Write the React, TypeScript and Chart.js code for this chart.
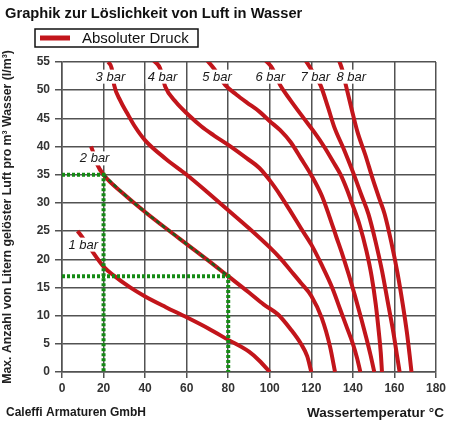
import React, { useEffect, useRef } from "react";
import { Chart, registerables } from "chart.js";

Chart.register(...registerables);

const FONT = '"Liberation Sans", Arial, Helvetica, sans-serif';

const chartTitle = "Graphik zur Löslichkeit von Luft in Wasser";
const legendLabel = "Absoluter Druck";
const yAxisTitle = "Max. Anzahl von Litern gelöster Luft pro m³ Wasser (l/m³)";
const xAxisTitle = "Wassertemperatur °C";
const footerText = "Caleffi Armaturen GmbH";

const xMin = 0;
const xMax = 180;
const xStep = 20;
const yMin = 0;
const yMax = 55;
const yStep = 5;

// Curves: [temperature °C, litres of air per m³ water]
const curve1bar = [[7.5, 25], [10, 23.8], [14, 21.7], [20, 18.7], [25, 17.1], [32.8, 15], [40, 13.4], [50, 11.5], [60, 9.7], [70, 7.8], [80, 5.7], [90, 3.6], [95, 2.0], [100, 0]];
const curve2bar = [[14, 40], [15, 39], [17, 36.8], [20, 35], [30, 31.5], [40, 28.4], [50, 25.5], [60, 22.7], [70, 19.9], [80, 17], [90, 14.1], [97, 12], [104, 10.2], [110, 7.6], [115, 5], [118, 2.8], [120, 0]];
const curve3bar = [[22.3, 55], [23.9, 53.9], [25.1, 50.9], [28, 48.2], [31.4, 45.9], [35, 43.6], [40, 41.1], [50, 37.8], [60, 35], [70, 31.9], [80, 28.7], [90, 25.5], [100, 22.1], [105, 20.2], [110, 18], [115, 15.8], [120, 13.5], [125, 9.6], [129, 4.5], [131.4, 0]];
const curve4bar = [[44, 55.3], [47.2, 53.9], [49.7, 50.6], [55, 47.8], [60.9, 45.6], [67, 43.6], [73, 42], [80, 40.3], [89, 37.9], [95, 36.2], [100, 34], [105, 31.4], [110, 28.5], [115, 25.5], [120, 22.6], [125, 19], [130, 15], [134, 11], [137, 8], [140, 5], [142, 2.5], [143.6, 0]];
const curve5bar = [[69.8, 55.3], [73, 53.9], [78.6, 50.9], [84, 49.2], [89, 47.8], [95, 46.2], [100, 44.5], [105, 42.9], [110, 40.8], [115, 37.9], [120, 34.9], [125, 31.3], [128.5, 27.8], [132, 24], [135, 20.8], [138, 17.3], [141, 13.5], [144, 9.5], [146.5, 6], [148.5, 3], [150.3, 0]];
const curve6bar = [[97.9, 55.3], [101.2, 53.9], [105, 50.9], [110, 48.2], [116.4, 45], [121.5, 42.5], [126.1, 40], [130.5, 37.3], [134.1, 35], [137, 32.5], [139.5, 30], [143.3, 26], [146.5, 21.5], [149, 17], [151, 12], [152.5, 7], [153.4, 3.5], [154, 0]];
const curve7bar = [[117.2, 55.3], [119.6, 53.9], [124.4, 50.9], [128, 47], [131, 43.5], [135.8, 39.4], [140, 35.5], [144, 31.5], [147.5, 28], [151, 23], [154, 18], [157, 12], [159.5, 7], [161.2, 3], [162.5, 0]];
const curve8bar = [[133.3, 55.3], [134.9, 53.6], [136.6, 50.9], [139.5, 46.5], [142.2, 42.6], [146, 38.5], [149.5, 34.3], [152.5, 31], [155.3, 28], [158.5, 23], [161.5, 17.5], [164, 12], [166, 7], [167.3, 3], [168.2, 0]];

const curves = [curve1bar, curve2bar, curve3bar, curve4bar, curve5bar, curve6bar, curve7bar, curve8bar];
const curveNames = ["1 bar", "2 bar", "3 bar", "4 bar", "5 bar", "6 bar", "7 bar", "8 bar"];
// where each curve's name sits, in data units
const curveLabelAnchors = [[10.2, 22.6], [15.7, 37.9], [23.3, 52.4], [48.4, 52.4], [74.6, 52.4], [100.2, 52.4], [121.9, 52.4], [139.2, 52.4]];

// Reading example (green dotted guides)
const guide2bar = [[0, 35], [20, 35], [20, 0]];
const guide1bar = [[0, 17], [80, 17], [80, 0]];
const guideFrom = 20;
const guideTo = 80;

const RED = "#c2151b";
const GREEN = "#148a14";
const GRID = "#525252";

const toPts = (arr: number[][]) => arr.map(([x, y]) => ({ x, y }));

const decorPlugin = {
  id: "decor",
  afterDatasetsDraw(chart: any) {
    const { ctx } = chart;
    const xs = chart.scales.x;
    const ys = chart.scales.y;
    ctx.save();
    ctx.font = `italic 13px ${FONT}`;
    ctx.textAlign = "center";
    ctx.textBaseline = "middle";
    curveNames.forEach((name, i) => {
      const [ax, ay] = curveLabelAnchors[i];
      const px = xs.getPixelForValue(ax);
      const py = ys.getPixelForValue(ay);
      const w = ctx.measureText(name).width;
      ctx.fillStyle = "#ffffff";
      ctx.fillRect(px - w / 2 - 2, py - 7, w + 4, 14);
      ctx.fillStyle = "#1a1a1a";
      ctx.fillText(name, px, py + 0.5);
    });
    ctx.restore();
  },
  afterDraw(chart: any) {
    const { ctx } = chart;
    ctx.save();
    // title
    ctx.fillStyle = "#111111";
    ctx.textBaseline = "middle";
    ctx.textAlign = "left";
    ctx.font = `bold 14.7px ${FONT}`;
    ctx.fillText(chartTitle, 5, 14);
    // legend box
    ctx.fillStyle = "#ffffff";
    ctx.fillRect(35, 29, 163, 18);
    ctx.strokeStyle = "#111111";
    ctx.lineWidth = 1.5;
    ctx.strokeRect(35, 29, 163, 18);
    ctx.strokeStyle = RED;
    ctx.lineWidth = 5;
    ctx.beginPath();
    ctx.moveTo(40, 38);
    ctx.lineTo(70, 38);
    ctx.stroke();
    ctx.fillStyle = "#111111";
    ctx.font = `15px ${FONT}`;
    ctx.fillText(legendLabel, 82, 38.5);
    // footer
    ctx.font = `bold 12px ${FONT}`;
    ctx.fillStyle = "#1a1a1a";
    ctx.fillText(footerText, 6, 413);
    // x-axis title
    ctx.font = `bold 13.5px ${FONT}`;
    ctx.fillStyle = "#1a1a1a";
    ctx.fillText(xAxisTitle, 307, 413);
    ctx.restore();
  },
};

export default function App() {
  const canvasRef = useRef<HTMLCanvasElement | null>(null);

  useEffect(() => {
    if (!canvasRef.current) return;
    const redSets = curves.map((c, i) => ({
      label: curveNames[i],
      data: toPts(c),
      showLine: true,
      borderColor: RED,
      backgroundColor: RED,
      borderWidth: 4,
      pointRadius: 0,
      cubicInterpolationMode: "monotone" as const,
      order: 2,
    }));
    const overlay = curve2bar.filter(([x]) => x >= guideFrom && x <= guideTo);
    const greenSets = [
      {
        label: "guide 2 bar",
        data: toPts(guide2bar),
        showLine: true,
        borderColor: GREEN,
        borderWidth: 4,
        borderDash: [3, 2],
        pointRadius: 0,
        tension: 0,
        order: 0,
      },
      {
        label: "guide 1 bar",
        data: toPts(guide1bar),
        showLine: true,
        borderColor: GREEN,
        borderWidth: 4,
        borderDash: [3, 2],
        pointRadius: 0,
        tension: 0,
        order: 0,
      },
      {
        label: "guide curve",
        data: toPts(overlay),
        showLine: true,
        borderColor: "#1d5e1d",
        borderWidth: 2.5,
        borderDash: [4, 3],
        pointRadius: 0,
        cubicInterpolationMode: "monotone" as const,
        order: 1,
      },
    ];

    const tickFont = { family: FONT, size: 12, weight: "bold" as const };
    const chart = new Chart(canvasRef.current, {
      type: "scatter",
      data: { datasets: [...greenSets, ...redSets] as any },
      options: {
        responsive: false,
        animation: false,
        layout: { padding: { top: 62, right: 14, bottom: 0, left: 0 } },
        plugins: { legend: { display: false }, tooltip: { enabled: false } },
        scales: {
          x: {
            type: "linear",
            min: xMin,
            max: xMax,
            afterFit: (s: any) => {
              s.height = 54;
            },
            ticks: { stepSize: xStep, color: "#333333", font: tickFont, padding: 3, maxRotation: 0, autoSkip: false },
            grid: { color: GRID, lineWidth: 1.5, tickLength: 6, drawTicks: true },
            border: { color: GRID, width: 1.5 },
          },
          y: {
            type: "linear",
            min: yMin,
            max: yMax,
            afterFit: (s: any) => {
              s.width = 62;
            },
            ticks: { stepSize: yStep, color: "#333333", font: tickFont, padding: 5, autoSkip: false },
            grid: { color: GRID, lineWidth: 1.5, tickLength: 7, drawTicks: true },
            border: { color: GRID, width: 1.5 },
            title: {
              display: true,
              text: yAxisTitle,
              color: "#222222",
              font: { family: FONT, size: 12.3, weight: "bold" },
              padding: { top: 0, bottom: 0 },
            },
          },
        },
      },
      plugins: [decorPlugin],
    });
    return () => chart.destroy();
  }, []);

  return (
    <div style={{ position: "fixed", left: 0, top: 0, width: 450, height: 426, background: "#ffffff" }}>
      <canvas ref={canvasRef} width={450} height={426} style={{ display: "block", width: 450, height: 426 }} />
    </div>
  );
}
